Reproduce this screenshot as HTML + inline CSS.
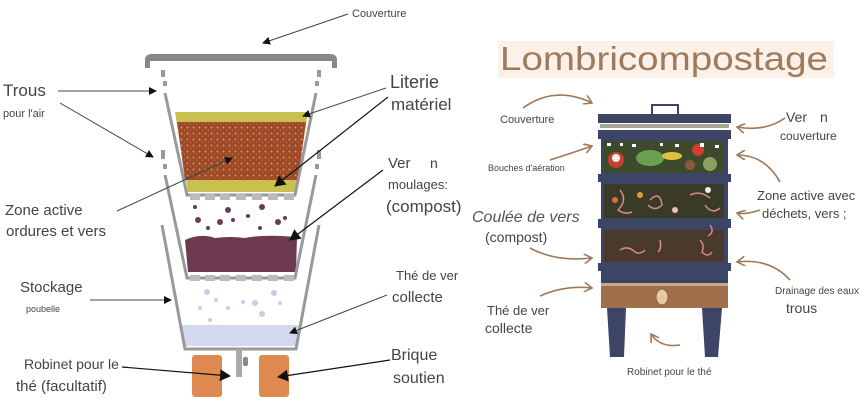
<!DOCTYPE html>
<html><head><meta charset="utf-8"><style>
html,body{margin:0;padding:0;background:#fff}
svg{display:block}
text{font-family:"Liberation Sans",sans-serif}
.c{font-family:"Liberation Sans Narrow","Liberation Sans",sans-serif}
</style></head><body>
<svg width="862" height="415" viewBox="0 0 862 415" xmlns="http://www.w3.org/2000/svg">
<defs>
<marker id="a" markerWidth="8" markerHeight="8" refX="7" refY="4" orient="auto" markerUnits="userSpaceOnUse"><path d="M0,0 L8,4 L0,8 z" fill="#111"/></marker>
<marker id="a2" markerWidth="12" markerHeight="12" refX="10" refY="6" orient="auto" markerUnits="userSpaceOnUse"><path d="M0,0 L11,6 L0,12 z" fill="#111"/></marker>
<marker id="b" markerWidth="10" markerHeight="10" refX="8" refY="5" orient="auto" markerUnits="userSpaceOnUse"><path d="M0,0 L8,5 L0,10" fill="none" stroke="#a07858" stroke-width="1.6"/></marker>
<pattern id="dots" width="6" height="6" patternUnits="userSpaceOnUse"><rect width="6" height="6" fill="#9a4a28"/><circle cx="1.5" cy="1.5" r="1" fill="#e09050"/><circle cx="4.5" cy="4" r="0.8" fill="#c86a38"/></pattern>
</defs>
<rect width="862" height="415" fill="#fff"/>
<!-- LEFT DIAGRAM -->
<path d="M145,68 L145,60 Q145,54 152,54 L330,54 Q337,54 337,60 L337,68 L332,68 L332,61 L150,61 L150,68 Z" fill="#888"/>
<!-- air holes top -->
<g fill="#999"><rect x="161" y="70" width="4" height="7"/><rect x="163" y="81" width="4" height="5"/><rect x="317" y="70" width="4" height="7"/><rect x="315" y="81" width="4" height="5"/>
<rect x="161" y="150" width="4" height="9"/><rect x="163" y="164" width="4" height="5"/><rect x="317" y="150" width="4" height="9"/><rect x="315" y="164" width="4" height="5"/></g>
<!-- top tier -->
<path d="M175,112 L308,112 L295,192 L188,192 Z" fill="#c9c050"/>
<path d="M177,122 L306,122 L298,180 L185,180 Z" fill="url(#dots)"/>
<path d="M165,93 L187,195 L295,195 L316,93" fill="none" stroke="#999" stroke-width="3"/>
<g fill="#bbb"><rect x="190" y="194" width="10" height="6"/><rect x="205" y="194" width="10" height="6"/><rect x="220" y="194" width="10" height="6"/><rect x="236" y="194" width="10" height="6"/><rect x="252" y="194" width="10" height="6"/><rect x="268" y="194" width="10" height="6"/><rect x="284" y="194" width="10" height="6"/></g>
<!-- middle tier -->
<g fill="#6a3a58"><circle cx="195" cy="207" r="2"/><circle cx="228" cy="210" r="3"/><circle cx="262" cy="207" r="3"/><circle cx="198" cy="220" r="3"/><circle cx="220" cy="222" r="3"/><circle cx="233" cy="220" r="2"/><circle cx="248" cy="216" r="2"/><circle cx="278" cy="222" r="3"/><circle cx="285" cy="218" r="2"/><circle cx="208" cy="228" r="2"/><circle cx="260" cy="228" r="2"/></g>
<path d="M185,240 Q200,233 215,238 Q230,236 245,238 Q265,234 297,237 L296,272 L188,272 Z" fill="#6e3a52"/>
<path d="M165,175 L187,278 L295,278 L316,175" fill="none" stroke="#999" stroke-width="3"/>
<g fill="#bbb"><rect x="190" y="275" width="10" height="6"/><rect x="205" y="275" width="10" height="6"/><rect x="220" y="275" width="10" height="6"/><rect x="236" y="275" width="10" height="6"/><rect x="252" y="275" width="10" height="6"/><rect x="268" y="275" width="10" height="6"/><rect x="284" y="275" width="10" height="6"/></g>
<!-- bottom tier -->
<g fill="#c8cce8"><circle cx="207" cy="292" r="3"/><circle cx="216" cy="300" r="2"/><circle cx="255" cy="303" r="3"/><circle cx="274" cy="293" r="3"/><circle cx="200" cy="308" r="2"/><circle cx="228" cy="308" r="2"/><circle cx="262" cy="314" r="3"/><circle cx="280" cy="303" r="2"/><circle cx="210" cy="320" r="2"/><circle cx="243" cy="302" r="2"/></g>
<path d="M181,325 L300,325 L296,346 L185,346 Z" fill="#d4d8ee"/>
<path d="M162,225 L185,349 L296,349 L319,225" fill="none" stroke="#999" stroke-width="3"/>
<!-- bricks & tap -->
<rect x="192" y="355" width="30" height="42" rx="3" fill="#e08a52"/>
<rect x="259" y="355" width="30" height="42" rx="3" fill="#e08a52"/>
<rect x="236" y="349" width="6" height="28" fill="#aaa"/><rect x="243" y="357" width="5" height="9" rx="2" fill="#888"/>
<!-- left arrows -->
<g stroke="#444" stroke-width="1" fill="none" marker-end="url(#a)">
<line x1="348" y1="14" x2="263" y2="43"/>
<line x1="58" y1="91" x2="156" y2="91"/>
<line x1="60" y1="103" x2="153" y2="157"/>
<line x1="117" y1="211" x2="232" y2="158"/>
<line x1="386" y1="88" x2="303" y2="116"/>
<line x1="90" y1="300" x2="171" y2="300"/>
<line x1="387" y1="295" x2="290" y2="333"/>
</g>
<g stroke="#111" stroke-width="1.2" fill="none" marker-end="url(#a2)">
<line x1="388" y1="97" x2="275" y2="186"/>
<line x1="383" y1="170" x2="290" y2="240"/>
<line x1="122" y1="367" x2="230" y2="376"/>
<line x1="390" y1="360" x2="278" y2="377"/>
</g>
<!-- left labels -->
<g fill="#444">
<text x="352" y="17" font-size="11" class="c">Couverture</text>
<text x="3" y="96" font-size="17">Trous</text>
<text x="3" y="117" font-size="11">pour l'air</text>
<text x="390" y="88" font-size="18">Literie</text>
<text x="391" y="110" font-size="17">matériel</text>
<text x="388" y="168" font-size="15">Ver</text><text x="430" y="168" font-size="14">n</text>
<text x="388" y="189" font-size="13">moulages:</text>
<text x="386" y="212" font-size="17">(compost)</text>
<text x="5" y="215" font-size="15">Zone active</text>
<text x="6" y="236" font-size="15">ordures et vers</text>
<text x="20" y="292" font-size="15">Stockage</text>
<text x="26" y="312" font-size="9" class="c">poubelle</text>
<text x="396" y="280" font-size="13">Thé de ver</text>
<text x="392" y="302" font-size="15">collecte</text>
<text x="24" y="369" font-size="14" class="c">Robinet pour le</text>
<text x="16" y="391" font-size="15">thé (facultatif)</text>
<text x="391" y="360" font-size="16">Brique</text>
<text x="393" y="383" font-size="16">soutien</text>
</g>
<!-- RIGHT DIAGRAM -->
<rect x="498" y="41" width="336" height="37" fill="#fbf1e8"/>
<text x="500" y="70" font-size="33" fill="#a07a5c" textLength="328" lengthAdjust="spacingAndGlyphs">Lombricompostage</text>
<!-- bin -->
<path d="M652,115 L652,105 L678,105 L678,115" fill="none" stroke="#3d4566" stroke-width="2"/>
<rect x="598" y="114" width="133" height="9" fill="#3d4566"/>
<rect x="600" y="124" width="129" height="4" fill="#a8a898"/>
<rect x="598" y="130" width="133" height="9" fill="#3d4566"/>
<rect x="601" y="139" width="127" height="132" fill="#3d4566"/>
<rect x="604" y="141" width="120" height="32" fill="#3e4a2c"/>
<g><circle cx="616" cy="160" r="8" fill="#c84030"/><circle cx="616" cy="158" r="4" fill="#eee"/><ellipse cx="650" cy="158" rx="14" ry="8" fill="#6aa050"/><ellipse cx="672" cy="156" rx="10" ry="4" fill="#e0c040"/><circle cx="698" cy="150" r="6" fill="#d04030"/><circle cx="710" cy="164" r="7" fill="#8aa060"/><circle cx="690" cy="165" r="5" fill="#8a5a40"/>
<g fill="#fff"><rect x="607" y="143" width="4" height="3"/><rect x="620" y="143" width="3" height="3"/><rect x="632" y="144" width="4" height="3"/><rect x="660" y="143" width="3" height="3"/><rect x="675" y="144" width="4" height="3"/><rect x="700" y="143" width="4" height="4"/><rect x="715" y="145" width="4" height="3"/></g></g>
<rect x="598" y="174" width="133" height="8" fill="#3d4566"/>
<rect x="604" y="184" width="120" height="34" fill="#3a3a28"/>
<g fill="none" stroke="#d88a8a" stroke-width="1.5"><path d="M620,190 Q628,200 618,210 Q625,215 632,212"/><path d="M650,200 Q660,190 662,205 Q655,212 648,205"/><path d="M690,195 Q700,190 710,198"/><path d="M705,205 Q712,215 720,208"/></g>
<g><circle cx="615" cy="200" r="3" fill="#e07030"/><circle cx="640" cy="195" r="3" fill="#e0a030"/><circle cx="708" cy="190" r="3" fill="#eee"/><circle cx="675" cy="210" r="3" fill="#f0c0c0"/></g>
<rect x="598" y="219" width="133" height="9" fill="#3d4566"/>
<rect x="604" y="230" width="120" height="32" fill="#4a3a2c"/>
<g fill="none" stroke="#d88a8a" stroke-width="1.5"><path d="M620,250 Q628,245 635,252 Q640,255 645,250"/><path d="M660,240 Q662,248 658,252"/><path d="M700,240 Q705,245 702,252 Q708,258 712,252"/><path d="M710,225 Q715,232 708,236"/></g>
<rect x="598" y="263" width="133" height="8" fill="#3d4566"/>
<rect x="601" y="271" width="127" height="12" fill="#3d4566"/>
<rect x="601" y="283" width="127" height="25" fill="#a0704a"/>
<rect x="601" y="283" width="127" height="3" fill="#c8a888"/>
<ellipse cx="662" cy="297" rx="6" ry="8" fill="#e8c8a0" stroke="#806040"/>
<path d="M607,308 L626,308 L624,357 L610,357 Z" fill="#3d4566"/>
<path d="M702,308 L722,308 L718,357 L705,357 Z" fill="#3d4566"/>
<!-- right arrows -->
<g stroke="#a07858" stroke-width="1.6" fill="none" marker-end="url(#b)">
<path d="M523,108 Q555,85 592,103"/>
<path d="M550,160 Q575,152 592,146"/>
<path d="M530,248 Q555,262 592,258"/>
<path d="M540,296 Q565,285 592,288"/>
<path d="M680,345 Q660,348 651,334"/>
<path d="M785,118 Q765,132 737,127"/>
<path d="M780,182 Q765,155 737,155"/>
<path d="M760,210 Q745,215 737,213"/>
<path d="M790,280 Q770,258 737,262"/>
</g>
<g fill="#444">
<text x="500" y="123" font-size="11" class="c">Couverture</text>
<text x="488" y="171" font-size="9" class="c">Bouches d'aération</text>
<text x="472" y="222" font-size="16" font-style="italic" fill="#555">Coulée de vers</text>
<text x="485" y="242" font-size="14">(compost)</text>
<text x="487" y="315" font-size="13">Thé de ver</text>
<text x="485" y="333" font-size="14">collecte</text>
<text x="627" y="375" font-size="10" class="c">Robinet pour le thé</text>
<text x="775" y="294" font-size="10" class="c">Drainage des eaux</text>
<text x="786" y="313" font-size="14">trous</text>
<text x="757" y="200" font-size="13">Zone active avec</text>
<text x="762" y="218" font-size="13">déchets, vers ;</text>
<text x="786" y="122" font-size="14">Ver</text><text x="820" y="122" font-size="14">n</text>
<text x="780" y="140" font-size="12">couverture</text>
</g>
</svg>
</body></html>
